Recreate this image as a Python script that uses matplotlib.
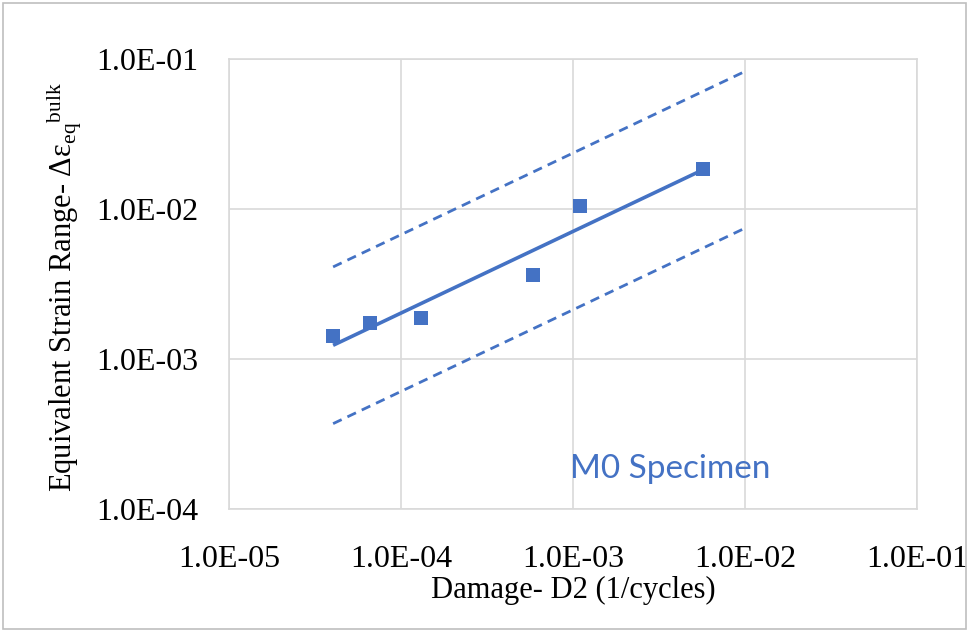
import numpy as np
import matplotlib
matplotlib.use("Agg")
import matplotlib.pyplot as plt
from matplotlib.patches import Rectangle

# Measured damage vs. equivalent bulk strain range (M0 specimen)
damage = [4.03e-5, 6.57e-5, 1.30e-4, 5.86e-4, 1.10e-3, 5.69e-3]
strain = [1.43e-3, 1.75e-3, 1.89e-3, 3.63e-3, 1.05e-2, 1.86e-2]

# Scatter band factor around the power-law fit and its x extent
band_factor = 3.33
band_x_end = 1.0e-2

x_ticks = [1e-5, 1e-4, 1e-3, 1e-2, 1e-1]
y_ticks = [1e-4, 1e-3, 1e-2, 1e-1]

blue = "#4472C4"
grid_grey = "#D9D9D9"

plt.rcParams["font.family"] = ["Liberation Serif", "DejaVu Serif"]
plt.rcParams["mathtext.fontset"] = "custom"
plt.rcParams["mathtext.rm"] = "Liberation Serif"
plt.rcParams["mathtext.it"] = "Liberation Serif:italic"

fig = plt.figure(figsize=(9.69, 6.32), dpi=100)
ax = fig.add_axes([229 / 969, 1 - 509 / 632, 688 / 969, 450 / 632])

# Power-law fit in log-log space
lx = np.log10(damage)
ly = np.log10(strain)
slope, intercept = np.polyfit(lx, ly, 1)

fit_x = np.array([min(damage), max(damage)])
fit_y = 10 ** (intercept + slope * np.log10(fit_x))

band_x = np.array([min(damage), band_x_end])
band_mid = 10 ** (intercept + slope * np.log10(band_x))

ax.plot(fit_x, fit_y, color=blue, lw=2.6, solid_capstyle="butt", zorder=3)
for factor in (band_factor, 1 / band_factor):
    ax.plot(band_x, band_mid * factor, color=blue, lw=2.0,
            dashes=(3.4, 2.3), zorder=3)
ax.plot(damage, strain, linestyle="none", marker="s", markersize=9.5,
        color=blue, markeredgewidth=0, zorder=4)

ax.set_xscale("log")
ax.set_yscale("log")
ax.set_xlim(1e-5, 1e-1)
ax.set_ylim(1e-4, 1e-1)
ax.set_xticks(x_ticks)
ax.set_yticks(y_ticks)
ax.minorticks_off()
ax.xaxis.set_major_formatter(plt.FuncFormatter(lambda v, p: f"{v:.1E}"))
ax.yaxis.set_major_formatter(plt.FuncFormatter(lambda v, p: f"{v:.1E}"))
ax.tick_params(axis="both", length=0, labelsize=23, colors="black")
ax.tick_params(axis="x", pad=26)
ax.tick_params(axis="y", pad=22)

ax.grid(True, color=grid_grey, lw=1.2, zorder=0)
ax.set_axisbelow(True)
for spine in ax.spines.values():
    spine.set_color(grid_grey)
    spine.set_linewidth(1.2)

ax.set_xlabel("Damage- D2 (1/cycles)", fontsize=22)
ax.xaxis.set_label_coords(0.5, -0.148)

fig.text(64 / 969, 1 - 287 / 632,
         "Equivalent Strain Range- \u0394\u03b5$_{\\mathrm{eq}}$$^{\\mathrm{bulk}}$",
         rotation=90, ha="center", va="center", fontsize=22)

ax.text(0.496, 0.09, "M0 Specimen", transform=ax.transAxes,
        ha="left", va="center", fontsize=24, color=blue,
        family=["Lato", "DejaVu Sans"])

# Chart area border
fig.patches.append(Rectangle((0.003, 0.004), 0.994, 0.992,
                             transform=fig.transFigure, fill=False,
                             edgecolor="#BFBFBF", lw=1.2))

fig.savefig("out.png", dpi=100)
